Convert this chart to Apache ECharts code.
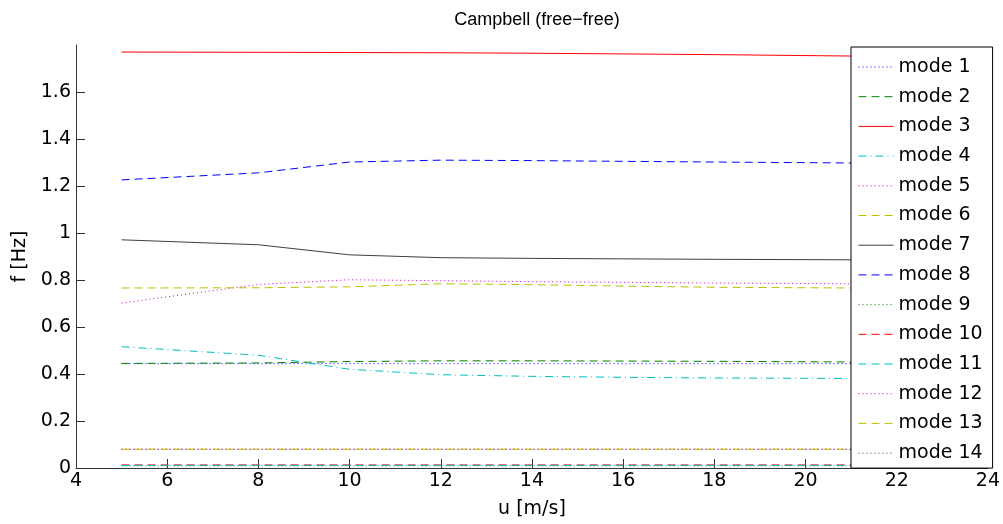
<!DOCTYPE html>
<html>
<head>
<meta charset="utf-8">
<script src="https://cdn.jsdelivr.net/npm/echarts@6/dist/echarts.min.js"></script>
<style>
  html, body { margin: 0; padding: 0; background: #fff; }
  #chart { width: 1003px; height: 524px; }
</style>
</head>
<body>
<div id="chart"></div>
<script>
// Wind speeds [m/s] at which the modal frequencies were computed
const windSpeeds = [5, 8, 10, 12, 14, 16, 18, 21];

// Modal frequencies [Hz] per mode
const mode1  = [0.444, 0.444, 0.444, 0.444, 0.444, 0.444, 0.444, 0.444];
const mode2  = [0.445, 0.447, 0.453, 0.456, 0.456, 0.455, 0.454, 0.451];
const mode3  = [1.770, 1.769, 1.768, 1.767, 1.765, 1.762, 1.759, 1.753];
const mode4  = [0.516, 0.480, 0.420, 0.397, 0.390, 0.386, 0.383, 0.381];
const mode5  = [0.702, 0.781, 0.801, 0.797, 0.793, 0.790, 0.787, 0.784];
const mode6  = [0.766, 0.767, 0.771, 0.784, 0.780, 0.774, 0.769, 0.766];
const mode7  = [0.971, 0.950, 0.907, 0.895, 0.892, 0.890, 0.888, 0.886];
const mode8  = [1.226, 1.256, 1.302, 1.310, 1.308, 1.305, 1.302, 1.298];
const mode9  = [0.009, 0.009, 0.009, 0.009, 0.009, 0.009, 0.009, 0.009];
const mode10 = [0.013, 0.013, 0.013, 0.013, 0.013, 0.013, 0.013, 0.013];
const mode11 = [0.011, 0.011, 0.011, 0.011, 0.011, 0.011, 0.011, 0.011];
const mode12 = [0.080, 0.080, 0.080, 0.080, 0.080, 0.080, 0.080, 0.080];
const mode13 = [0.080, 0.080, 0.080, 0.080, 0.080, 0.080, 0.080, 0.080];
const mode14 = [0.079, 0.079, 0.079, 0.079, 0.079, 0.079, 0.079, 0.079];

const modeNames = ['mode 1', 'mode 2', 'mode 3', 'mode 4', 'mode 5', 'mode 6', 'mode 7',
                   'mode 8', 'mode 9', 'mode 10', 'mode 11', 'mode 12', 'mode 13', 'mode 14'];
const modeValues = [mode1, mode2, mode3, mode4, mode5, mode6, mode7,
                    mode8, mode9, mode10, mode11, mode12, mode13, mode14];

// Line colours and dash patterns per mode
const colors = ['#0000ff', '#008000', '#ff0000', '#00bfbf', '#bf00bf', '#bfbf00', '#404040',
                '#0000ff', '#008000', '#ff0000', '#00bfbf', '#bf00bf', '#bfbf00', '#404040'];
const DOT = [1, 3], DASH = [8, 5], DASHDOT = [8, 4, 1, 4], SOLID = 'solid';
const styles = [DOT, DASH, SOLID, DASHDOT, DOT, DASH, SOLID,
                DASH, DOT, DASH, DASH, DOT, DASH, DOT];

const FONT = 'DejaVu Sans, Verdana, sans-serif';
const TITLE_FONT = 'Liberation Sans, Arial, Helvetica, sans-serif';

const series = modeNames.map((name, i) => ({
  name: name,
  type: 'line',
  data: windSpeeds.map((u, k) => [u, modeValues[i][k]]),
  symbol: 'none',
  showSymbol: false,
  smooth: false,
  color: colors[i],
  lineStyle: { color: colors[i], width: 1, type: styles[i] },
  itemStyle: { color: colors[i] },
  z: i === 13 ? 1 : 2
}));

// Legend entries carry their own line sample style; the marker is hidden
const legendItems = modeNames.map((name, i) => ({
  name: name,
  itemStyle: { color: colors[i], opacity: 0 },
  lineStyle: { color: colors[i], width: 1, type: styles[i], opacity: 1 }
}));

const chart = echarts.init(document.getElementById('chart'), null, { renderer: 'canvas' });
chart.setOption({
  animation: false,
  backgroundColor: '#fff',
  title: {
    text: 'Campbell (free\u2212free)',
    left: 532,
    textAlign: 'center',
    top: 6,
    textStyle: { fontFamily: TITLE_FONT, fontSize: 18, fontWeight: 'normal', color: '#000' }
  },
  grid: { left: 76, right: 14, top: 45, bottom: 56, containLabel: false },
  xAxis: {
    type: 'value',
    min: 4, max: 24, interval: 2,
    name: 'u [m/s]',
    nameLocation: 'middle',
    nameGap: 32,
    nameTextStyle: { fontFamily: FONT, fontSize: 19, color: '#000' },
    axisLine: { lineStyle: { color: '#333', width: 1 } },
    axisTick: { inside: true, length: 9, lineStyle: { color: '#333' } },
    axisLabel: { fontFamily: FONT, fontSize: 19, color: '#000', margin: 4 },
    splitLine: { show: false }
  },
  yAxis: {
    type: 'value',
    min: 0, max: 1.8, interval: 0.2,
    name: 'f [Hz]',
    nameLocation: 'middle',
    nameGap: 43,
    nameTextStyle: { fontFamily: FONT, fontSize: 19, color: '#000' },
    axisLine: { show: true, lineStyle: { color: '#333', width: 1 } },
    axisTick: { show: true, inside: true, length: 9, lineStyle: { color: '#333' } },
    axisLabel: {
      fontFamily: FONT, fontSize: 19, color: '#000', margin: 5,
      showMaxLabel: false,
      formatter: v => (Math.round(v * 10) / 10).toString()
    },
    splitLine: { show: false }
  },
  legend: {
    orient: 'vertical',
    left: 851,
    top: 47,
    itemWidth: 35,
    itemHeight: 14,
    itemGap: 10.7,
    padding: [10.5, 10, 5.5, 7],
    backgroundColor: '#fff',
    borderColor: '#000',
    borderWidth: 1,
    borderRadius: 0,
    textStyle: { fontFamily: FONT, fontSize: 19, lineHeight: 19, color: '#000' },
    data: legendItems
  },
  series: series
});
</script>
</body>
</html>
